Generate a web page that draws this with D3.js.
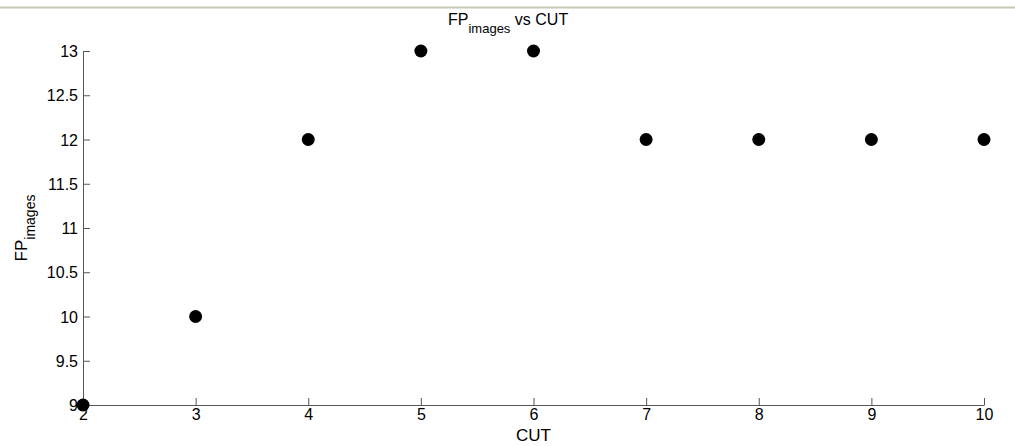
<!DOCTYPE html>
<html>
<head>
<meta charset="utf-8">
<script src="https://cdn.jsdelivr.net/npm/d3@7"></script>
<style>
  body { margin: 0; background: #fff; }
  svg { display: block; font-family: "Liberation Sans", Arial, sans-serif; }
  .tick text { font-size: 16px; }
</style>
</head>
<body>
<div class="chart"></div>
<script>
const cuts = [2, 3, 4, 5, 6, 7, 8, 9, 10];
const fpImages = [9, 10, 12, 13, 13, 12, 12, 12, 12];
const xTicks = [2, 3, 4, 5, 6, 7, 8, 9, 10];
const yTicks = [9, 9.5, 10, 10.5, 11, 11.5, 12, 12.5, 13];

const W = 1015, H = 446;
const margin = { top: 51, right: 31, bottom: 41, left: 83 };
const width = W - margin.left - margin.right,
  height = H - margin.top - margin.bottom;

const svg = d3.select(".chart").append("svg")
  .attr("width", W).attr("height", H);

// thin rule along the top of the figure
svg.append("line")
  .attr("x1", 0).attr("x2", W).attr("y1", 7.5).attr("y2", 7.5)
  .attr("stroke", "#c6c8b2").attr("stroke-width", 2);

const g = svg.append("g")
  .attr("transform", "translate(" + margin.left + "," + margin.top + ")");

const x = d3.scaleLinear().domain([2, 10]).range([0, width]);
const y = d3.scaleLinear().domain([9, 13]).range([height, 0]);

const fmt = d => String(d);

// x axis, ticks pointing inward
const xAxis = g.append("g")
  .attr("transform", "translate(0," + height + ")")
  .call(d3.axisBottom(x).tickValues(xTicks).tickFormat(fmt).tickSizeInner(-7).tickSizeOuter(0).tickPadding(4));
// y axis
const yAxis = g.append("g")
  .call(d3.axisLeft(y).tickValues(yTicks).tickFormat(fmt).tickSizeInner(-7).tickSizeOuter(0).tickPadding(5));

[xAxis, yAxis].forEach(a => {
  a.attr("font-size", 16).attr("font-family", "'Liberation Sans', Arial, sans-serif");
  a.select(".domain").attr("stroke", "#555");
  a.selectAll(".tick line").attr("stroke", "#555");
  a.selectAll(".tick text").attr("fill", "#000").attr("font-size", 16);
});
yAxis.selectAll(".tick text").attr("dy", "0.35em");

// points
g.selectAll("circle.pt")
  .data(cuts.map((c, i) => ({ c: c, v: fpImages[i] })))
  .enter().append("circle")
  .attr("class", "pt")
  .attr("cx", d => x(d.c))
  .attr("cy", d => y(d.v))
  .attr("r", 6.5)
  .attr("fill", "#000");

// title
const title = svg.append("text")
  .attr("x", 448).attr("y", 25)
  .style("font-size", "16px").attr("fill", "#000");
title.append("tspan").text("FP");
title.append("tspan").style("font-size", "13px").attr("dy", 8).text("images");
title.append("tspan").attr("dy", -8).text(" vs CUT");

// x label
svg.append("text")
  .attr("x", margin.left + width / 2).attr("y", 441)
  .attr("text-anchor", "middle").style("font-size", "17px").attr("fill", "#000")
  .text("CUT");

// y label
const ylab = svg.append("text")
  .attr("transform", "translate(27," + (margin.top + height / 2) + ") rotate(-90)")
  .attr("text-anchor", "middle").style("font-size", "17px").attr("fill", "#000");
ylab.append("tspan").text("FP");
ylab.append("tspan").style("font-size", "14px").attr("dy", 8).text("images");
</script>
</body>
</html>
